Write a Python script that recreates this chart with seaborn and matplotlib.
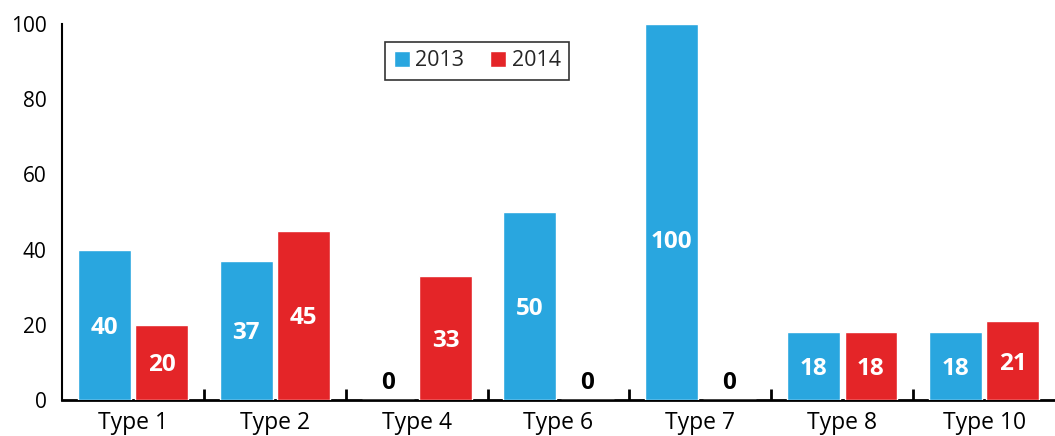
import matplotlib
matplotlib.use("Agg")
import matplotlib.pyplot as plt
from matplotlib.ticker import FixedLocator
import seaborn as sns
import pandas as pd

categories = ["Type 1", "Type 2", "Type 4", "Type 6", "Type 7", "Type 8", "Type 10"]
values_2013 = [40, 37, 0, 50, 100, 18, 18]
values_2014 = [20, 45, 33, 0, 0, 18, 21]
years = ["2013", "2014"]
colors = {"2013": "#29A6DF", "2014": "#E42528"}

df = pd.DataFrame({
    "type": categories * 2,
    "year": [years[0]] * len(categories) + [years[1]] * len(categories),
    "value": values_2013 + values_2014,
})

sns.set_theme(style="white")
plt.rcParams["font.family"] = ["Open Sans", "DejaVu Sans"]

fig = plt.figure(figsize=(10.55, 4.36), dpi=100)
ax = fig.add_axes([0.0588, 0.0826, 0.9412, 0.8624])

sns.barplot(data=df, x="type", y="value", hue="year", order=categories,
            hue_order=years, palette=colors, width=0.81, gap=0.08,
            saturation=1, ax=ax)

ax.set_xlim(-0.5, len(categories) - 0.5)
ax.set_ylim(0, 100)
ax.set_yticks([0, 20, 40, 60, 80, 100])
ax.tick_params(axis="y", length=0, labelsize=15, pad=11, labelcolor="black")
ax.tick_params(axis="x", which="major", length=0, labelsize=16.5, pad=8,
               labelcolor="black")
ax.xaxis.set_minor_locator(FixedLocator([i + 0.5 for i in range(len(categories) - 1)]))
ax.tick_params(axis="x", which="minor", direction="in", length=8, width=2,
               color="black", bottom=True)
ax.set_xlabel("")
ax.set_ylabel("")

for side in ["top", "right"]:
    ax.spines[side].set_visible(False)
ax.spines["left"].set_color("black")
ax.spines["left"].set_linewidth(1.5)
ax.spines["bottom"].set_color("black")
ax.spines["bottom"].set_linewidth(2)
ax.spines["bottom"].set_zorder(0.5)

# value labels inside each bar (zeros sit just above the axis)
for container in ax.containers:
    for bar in container:
        h = bar.get_height()
        xc = bar.get_x() + bar.get_width() / 2
        if h == 0:
            ax.text(xc, 4.5, "0", ha="center", va="center", color="black",
                    fontsize=17.5, fontweight="bold")
        else:
            ax.text(xc, min(h / 2 - 0.8, 42), f"{h:.0f}", ha="center",
                    va="center", color="white", fontsize=17.5, fontweight="bold")

leg = ax.legend(loc="center", bbox_to_anchor=(0.418, 0.902), ncol=2,
                frameon=True, fancybox=False, fontsize=15.5, handlelength=0.75,
                handleheight=0.75, handletextpad=0.25, columnspacing=1.2,
                borderpad=0.4, title=None)
leg.get_frame().set_edgecolor("black")
leg.get_frame().set_linewidth(1.2)

fig.savefig("out.png", dpi=100)
